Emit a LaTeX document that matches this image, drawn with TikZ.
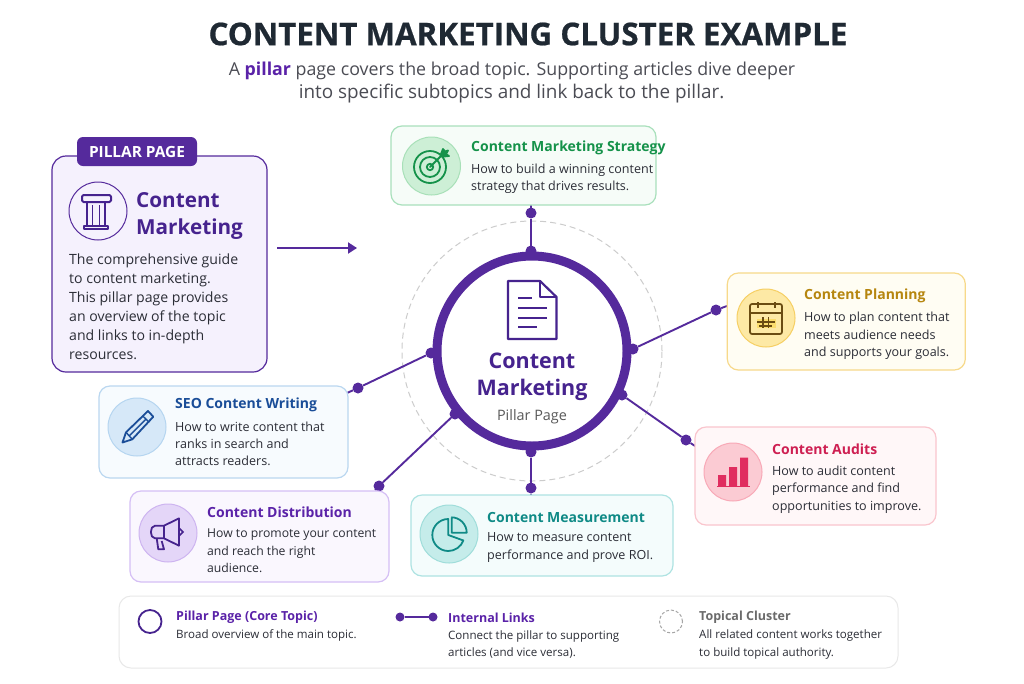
\documentclass[tikz,border=0pt]{standalone}
\usepackage{fontspec}
\setmainfont{Open Sans}
\newfontfamily\titlefont[FakeBold=0.6,BoldFont={Open Sans Bold}]{Open Sans}
\usetikzlibrary{arrows.meta}
\definecolor{pur}{HTML}{552A9C}
\definecolor{purd}{HTML}{46238E}
\definecolor{ink}{HTML}{2B2D36}
\definecolor{titleink}{HTML}{1F2933}
\definecolor{grn}{HTML}{15924A}
\definecolor{ylw}{HTML}{B6860F}
\definecolor{brn}{HTML}{6A4C12}
\definecolor{pnk}{HTML}{CE1F52}
\definecolor{bar}{HTML}{E02D5F}
\definecolor{blu}{HTML}{1A4D98}
\definecolor{viol}{HTML}{5A22A8}
\definecolor{tel}{HTML}{0F8A86}
\definecolor{gcb}{HTML}{A9E0BC}\definecolor{gcf}{HTML}{F6FCF8}\definecolor{gib}{HTML}{A8E0B8}\definecolor{gif}{HTML}{CDEFD6}
\definecolor{ycb}{HTML}{F7D98A}\definecolor{ycf}{HTML}{FFFDF3}\definecolor{yib}{HTML}{F6CF63}\definecolor{yif}{HTML}{FDE9A5}\definecolor{yhl}{HTML}{FBDD6E}
\definecolor{pcb}{HTML}{FAC5CD}\definecolor{pcf}{HTML}{FFF7F8}\definecolor{pib}{HTML}{F8A9B7}\definecolor{pif}{HTML}{FBCBD3}
\definecolor{bcb}{HTML}{BAD7F0}\definecolor{bcf}{HTML}{F7FBFE}\definecolor{bib}{HTML}{B5D5F0}\definecolor{bif}{HTML}{D6E8F8}
\definecolor{vcb}{HTML}{D5BFF5}\definecolor{vcf}{HTML}{FAF7FE}\definecolor{vib}{HTML}{CDB4F0}\definecolor{vif}{HTML}{E4D6F8}
\definecolor{tcb}{HTML}{AEE3E2}\definecolor{tcf}{HTML}{F4FCFC}\definecolor{tib}{HTML}{9FDDDA}\definecolor{tif}{HTML}{C5ECEA}
\definecolor{pillf}{HTML}{F5F1FD}
\newcommand{\fs}[2]{\fontsize{#1}{#2}\selectfont}
\tikzset{
  x=1pt,y=-1pt,
  cardbox/.style 2 args={draw=#1,fill=#2,line width=1.2pt,rounded corners=11pt,inner sep=0pt,outer sep=0pt},
  iconbg/.style 2 args={circle,draw=#1,fill=#2,line width=1pt,minimum size=58pt,inner sep=0pt,outer sep=0pt},
  hdg/.style={anchor=west,inner sep=0pt,font=\fs{14}{17}\bfseries},
  desc/.style={anchor=west,inner sep=0pt,align=left,text=ink,font=\fs{12.55}{17.3}},
  dotn/.style={circle,fill=pur,minimum size=11pt,inner sep=0pt,outer sep=0pt},
  link/.style={draw=pur,line width=1.9pt},
  lhdg/.style={anchor=west,inner sep=0pt,font=\fs{12.5}{15}\bfseries},
  ldesc/.style={anchor=west,inner sep=0pt,align=left,text=ink,font=\fs{11.55}{17.2}},
  ico/.style={line width=1.8pt,line join=round,line cap=round,fill=none},
}
\begin{document}
\begin{tikzpicture}
\useasboundingbox[fill=white] (0,0) rectangle (1024,683);
% title
\node[inner sep=0pt,text=titleink,font=\titlefont\fs{31.3}{36}\bfseries] (title) at (528,34) {CONTENT MARKETING CLUSTER EXAMPLE};
\node[inner sep=0pt,text=ink!85,font=\fs{17.8}{23}] (sub) at (512,71) {A {\bfseries\color{viol}pillar} page covers the broad topic. Supporting articles dive deeper};
\node[inner sep=0pt,text=ink!85,font=\fs{18.9}{23}] (subb) at (511.5,94) {into specific subtopics and link back to the pillar.};

% dashed cluster and hub
\node[circle,draw=black!20,dash pattern=on 6pt off 4pt,line width=1pt,minimum size=260pt,inner sep=0pt] (cluster) at (532,351) {};
\node[circle,draw=pur,line width=9pt,fill=white,minimum size=190pt,inner sep=0pt,outer sep=0pt] (hub) at (532,351) {};

% anchors of the connectors at the cards
\coordinate (e1) at (531,205);
\coordinate (e2) at (727,306);
\coordinate (e3) at (695,446);
\coordinate (e4) at (347,393);
\coordinate (e5) at (375,490);
\coordinate (e6) at (531,495);
% dots
\node[dotn] (a1) at (531,251) {};
\node[dotn] (b1) at (531,213) {};
\node[dotn] (a2) at (633,349) {};
\node[dotn] (b2) at (716,310) {};
\node[dotn] (a3) at (622,395) {};
\node[dotn] (b3) at (686,440) {};
\node[dotn] (a4) at (431,353) {};
\node[dotn] (b4) at (358,388) {};
\node[dotn] (a5) at (455,414) {};
\node[dotn] (b5) at (379,486) {};
\node[dotn] (a6) at (531,452) {};
\node[dotn] (b6) at (531,488) {};
\draw[link] (a1) -- (b1) -- (e1);
\draw[link] (a2) -- (b2) -- (e2);
\draw[link] (a3) -- (b3) -- (e3);
\draw[link] (a4) -- (b4) -- (e4);
\draw[link] (a5) -- (b5) -- (e5);
\draw[link] (a6) -- (b6) -- (e6);

% hub contents
\draw[draw=purd,line width=2.2pt,line join=round] (509,281) -- (540,281) -- (556.5,297) -- (556.5,339) -- (508,339) -- (508,281) -- cycle;
\draw[draw=purd,line width=2pt,line join=round] (540,281) -- (540,297) -- (556.5,297);
\draw[draw=purd,line width=2pt] (518,297.5) -- (532,297.5) (518,307.7) -- (547,307.7) (518,317.7) -- (547,317.7) (518,327.3) -- (537,327.3);
\node[inner sep=0pt,align=center,text=purd,font=\fs{21.5}{27}\bfseries] (hubt) at (532,376.5) {Content\\Marketing};
\node[inner sep=0pt,text=black!65,font=\fs{14.4}{17}] (hubs) at (532,417) {Pillar Page};

% pillar card
\node[cardbox={pur}{pillf},rounded corners=14pt,minimum width=215pt,minimum height=216pt] (pcard) at (159.5,264) {};
\node[fill=pur,rounded corners=6pt,minimum width=120pt,minimum height=29pt,inner sep=0pt,text=white,font=\fs{15.4}{17}\bfseries] (ptag) at (137,151.5) {PILLAR PAGE};
\node[circle,draw=pur,line width=1pt,fill=pillf,minimum size=58pt,inner sep=0pt] (picon) at (98,211) {};
\draw[draw=purd,line width=2pt,line join=round,rounded corners=1.5pt] (82,195) rectangle (111,202);
\draw[draw=purd,line width=1.8pt] (87,202) -- (87,225) (105,202) -- (105,225) (92.5,205) -- (92.5,225) (99.5,205) -- (99.5,225);
\draw[draw=purd,line width=2pt,line join=round] (84,225.5) rectangle (108,229);
\node[anchor=west,inner sep=0pt,align=left,text=purd,font=\fs{20.7}{27}\bfseries] (ptitle) at (136,215.5) {Content\\Marketing};
\node[anchor=west,inner sep=0pt,align=left,text=ink,font=\fs{14.1}{19}] (pdesc) at (69,306.5) {The comprehensive guide\\to content marketing.\\This pillar page provides\\an overview of the topic\\and links to in-depth\\resources.};
\coordinate (as) at (277,248);
\coordinate (ae) at (357,248);
\draw[draw=pur,line width=2pt,-{Triangle[length=9pt,width=11pt]}] (as) -- (ae);

% green
\node[cardbox={gcb}{gcf},minimum width=265pt,minimum height=79pt] (c1) at (523.5,165.5) {};
\node[iconbg={gib}{gif}] (i1) at (431.5,166) {};
\draw[draw=grn,ico] (430,167) circle (16);
\draw[draw=grn,ico] (430,167) circle (10);
\draw[draw=grn,ico] (430,167) circle (3.2);
\draw[draw=grn,ico] (430,167) -- (443,154);
\draw[draw=grn,line width=1.8pt,line join=round,fill=grn] (441,154) -- (443,149) -- (445,151.5) -- (448,150.5) -- (446,154) -- (449,156) -- (444,156.5) -- cycle;
\node[hdg,text=grn] (t1) at (471,148) {Content Marketing Strategy};
\node[desc] (d1) at (471,178.5) {How to build a winning content\\strategy that drives results.};

% yellow
\node[cardbox={ycb}{ycf},minimum width=238pt,minimum height=97pt] (c2) at (846.3,321.5) {};
\node[iconbg={yib}{yif}] (i2) at (766,318) {};
\fill[yhl] (757,319) rectangle (776,328);
\draw[draw=brn,line width=1.7pt,rounded corners=2pt] (750,304) rectangle (782,334);
\draw[draw=brn,line width=1.7pt] (750,313) -- (782,313) (758,302) -- (758,308) (775,302) -- (775,308);
\draw[draw=brn,line width=1.6pt] (763,317) -- (763,328) (768.5,317) -- (768.5,328) (757,322) -- (775,322) (759,326) -- (772,326);
\node[hdg,text=ylw] (t2) at (804,295.5) {Content Planning};
\node[desc] (d2) at (804,336) {How to plan content that\\meets audience needs\\and supports your goals.};

% pink
\node[cardbox={pcb}{pcf},minimum width=241pt,minimum height=98pt] (c3) at (815.5,476) {};
\node[iconbg={pib}{pif}] (i3) at (733,472) {};
\fill[bar] (718,475) rectangle (726,486) (729,467) rectangle (737,486) (740,457.5) rectangle (748,486);
\draw[draw=bar,line width=1.6pt] (717,486.5) -- (749.5,486.5);
\node[hdg,text=pnk] (t3) at (772,449) {Content Audits};
\node[desc] (d3) at (772,489.5) {How to audit content\\performance and find\\opportunities to improve.};

% blue
\node[cardbox={bcb}{bcf},minimum width=249pt,minimum height=92pt] (c4) at (223.5,432) {};
\node[iconbg={bib}{bif}] (i4) at (137,427) {};
\draw[draw=blu,line width=1.8pt,line join=round] (122.5,442.5) -- (126,432.3) -- (148,411) -- (153.3,416.7) -- (132.3,439.3) -- cycle;
\draw[draw=blu,line width=1.4pt] (126,432.3) -- (132.3,439.3) (142.7,416) -- (149.3,422.3) (129.5,435.5) -- (146,419);
\node[hdg,text=blu] (t4) at (175,405) {SEO Content Writing};
\node[desc] (d4) at (175,444) {How to write content that\\ranks in search and\\attracts readers.};

% violet
\node[cardbox={vcb}{vcf},minimum width=259pt,minimum height=91pt] (c5) at (259.5,536.5) {};
\node[iconbg={vib}{vif}] (i5) at (168,533) {};
\draw[draw=purd,line width=1.8pt,line join=round] (164,525.7) -- (179,518.3) -- (179,545.7) -- (164,538.3) -- (155,538.3) .. controls (149.5,538.3) and (149.5,525.7) .. (155,525.7) -- cycle;
\draw[draw=purd,line width=1.8pt,line join=round] (164,525.7) -- (164,538.3);
\draw[draw=purd,line width=1.8pt,line join=round] (156.7,538.3) -- (158.3,549.3) -- (164,549.3) -- (161.7,541);
\draw[draw=purd,line width=1.6pt] (179,528) -- (183,532) -- (179,536);
\node[hdg,text=viol] (t5) at (207,512) {Content Distribution};
\node[desc,font=\fs{12.2}{17.3}] (d5) at (207,551) {How to promote your content\\and reach the right\\audience.};

% teal
\node[cardbox={tcb}{tcf},minimum width=262pt,minimum height=81pt] (c6) at (542,535.5) {};
\node[iconbg={tib}{tif}] (i6) at (449,534) {};
\draw[draw=tel,line width=1.8pt,line join=round] (448.3,519) arc[start angle=270,end angle=20,radius=16] -- (448.3,535) -- cycle;
\draw[draw=tel,line width=1.8pt,line join=round] (451.7,517.3) -- (451.7,532.7) -- (466.7,532.7) arc[start angle=0,end angle=-90,radius=15.4];
\node[hdg,text=tel] (t6) at (487,517) {Content Measurement};
\node[desc] (d6) at (487,547.5) {How to measure content\\performance and prove ROI.};

% legend
\node[draw=black!9,fill=white,line width=1pt,rounded corners=12pt,minimum width=779pt,minimum height=72pt,inner sep=0pt] (leg) at (508.5,632) {};
\node[circle,draw=purd,line width=1.8pt,fill=white,minimum size=23pt,inner sep=0pt] (l1) at (150,621.5) {};
\node[lhdg,text=viol] (lt1) at (176,617.5) {Pillar Page (Core Topic)};
\node[ldesc] (ld1) at (176,635.5) {Broad overview of the main topic.};
\node[dotn,minimum size=9pt] (l2a) at (400,617) {};
\node[dotn,minimum size=9pt] (l2b) at (433,617) {};
\draw[link] (l2a) -- (l2b);
\node[lhdg,text=viol] (lt2) at (448,617.5) {Internal Links};
\node[ldesc] (ld2) at (448,644.5) {Connect the pillar to supporting\\articles (and vice versa).};
\node[circle,draw=black!35,densely dashed,line width=1pt,minimum size=23pt,inner sep=0pt] (l3) at (671,621.5) {};
\node[lhdg,text=black!58] (lt3) at (699,617.5) {Topical Cluster};
\node[ldesc] (ld3) at (699,644.5) {All related content works together\\to build topical authority.};
\end{tikzpicture}
\end{document}
